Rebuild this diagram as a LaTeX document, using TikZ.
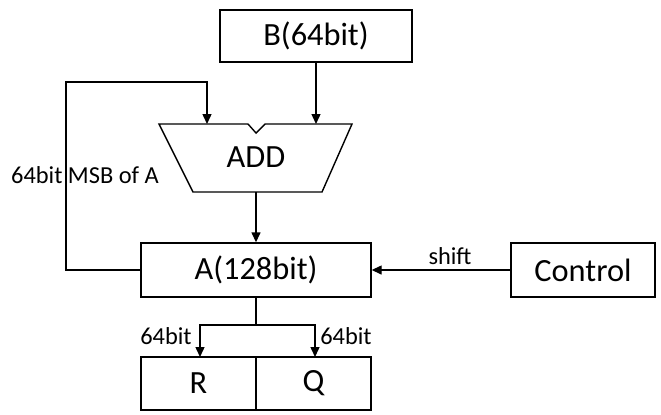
\documentclass[tikz,border=0pt]{standalone}
\usepackage{fontspec}
\setmainfont{Carlito}
\usetikzlibrary{arrows.meta}
\begin{document}
\begin{tikzpicture}[x=1bp,y=-1bp,line width=1.4bp,
  box/.style={draw,inner sep=0pt,font=\fontsize{32.5}{38}\selectfont},
  lbl/.style={inner sep=0pt,font=\fontsize{24.5}{29}\selectfont},
  big/.style={inner sep=0pt,font=\fontsize{32.5}{38}\selectfont},
  arr/.style={-{Triangle[length=10bp,width=9bp]}}]
\useasboundingbox (0,0) rectangle (661,414);
\node[box,minimum width=192bp,minimum height=52bp] (B) at (316,36) {B(64bit)};
\node[box,minimum width=230bp,minimum height=54bp] (A) at (256,270) {A(128bit)};
\node[box,minimum width=144bp,minimum height=54bp] (C) at (583,270) {Control};
\node[box,minimum width=115bp,minimum height=53bp] (R) at (198.5,383.5) {R};
\node[box,minimum width=115bp,minimum height=53bp] (Q) at (313.5,383.5) {Q};
% ADD trapezoid
\draw (159,124) -- (248,124) -- (256,133) -- (265,124) -- (352,124) -- (322,192) -- (193,192) -- cycle;
\node[big] (ADD) at (256,157) {ADD};
\coordinate (addL) at (207,124);
\coordinate (addR) at (316,124);
\coordinate (addB) at (256,192);
\coordinate (split) at (256,325);
\coordinate (Rin) at (200,357);
\coordinate (Qin) at (315,357);
\draw[arr] (B.south) -- (addR);
\draw[arr] (A.west) -- (66,270) -- (66,82) -| (addL);
\node[lbl] (msb) at (85,175) {64bit MSB of A};
\draw[arr] (addB) -- (A.north);
\draw[arr] (C.west) -- (A.east);
\node[lbl] (shift) at (450,256) {shift};
\draw (A.south) -- (split);
\draw[arr] (split) -| (Rin);
\draw[arr] (split) -| (Qin);
\node[lbl] (b1) at (166,336) {64bit};
\node[lbl] (b2) at (346,336) {64bit};
\end{tikzpicture}
\end{document}
